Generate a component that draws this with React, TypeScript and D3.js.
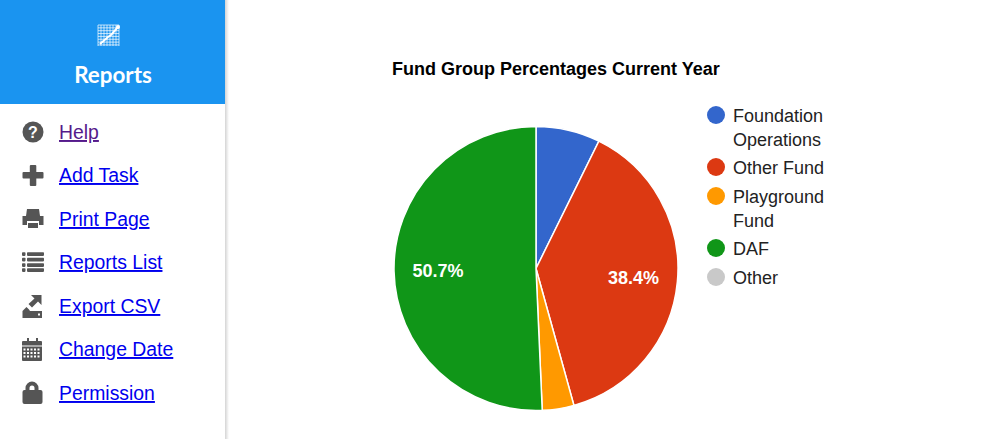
import React from "react";
import * as d3 from "d3";

const sliceNames = ["Foundation Operations", "Other Fund", "Playground Fund", "DAF", "Other"];
const sliceValues = [7.3, 38.4, 3.6, 50.7, 0.0];
const sliceColors = ["#3366cc", "#dc3912", "#ff9900", "#109618", "#c9c9c9"];
const legendLines = [["Foundation", "Operations"], ["Other Fund"], ["Playground", "Fund"], ["DAF"], ["Other"]];
const legendYs = [115, 167, 196, 248, 277];
const navLabels = ["Help", "Add Task", "Print Page", "Reports List", "Export CSV", "Change Date", "Permission"];
const navYs = [132, 175, 219, 262, 306, 349, 393];
const FONT = "'Liberation Sans', Arial, sans-serif";
const GREY = "#555555";

function Icon({ i, y }: { i: number; y: number }) {
  const t = `translate(33,${y})`;
  if (i === 0) return <g transform={t}>
    <circle r={10.5} fill={GREY} />
    <text y={5.5} textAnchor="middle" fontFamily={FONT} fontWeight="bold" fontSize={16} fill="#fff">?</text>
  </g>;
  if (i === 1) return <g transform={t} fill={GREY}>
    <rect x={-10.5} y={-3} width={21} height={6.5} rx={1} /><rect x={-3.2} y={-10} width={6.5} height={21} rx={1} />
  </g>;
  if (i === 2) return <g transform={t} fill={GREY}>
    <path d="M-6,-10 H6 L7,-3 H-7 Z" />
    <path d="M-10.5,-3 H10.5 V6 H6 V2 H-6 V6 H-10.5 Z" />
    <rect x={-5} y={4} width={10} height={5} />
  </g>;
  if (i === 3) return <g transform={t} fill={GREY}>
    {[-8, -2.5, 3, 8].map((d) => <g key={d}>
      <rect x={-11} y={d - 1.7} width={3.5} height={3.6} rx={0.8} />
      <rect x={-6} y={d - 1.7} width={17} height={3.6} rx={0.8} />
    </g>)}
  </g>;
  if (i === 4) return <g transform={t} fill={GREY}>
    <path d="M-2,-11 H8.5 V-1 L5,-4.5 L-1,1.5 L-4.5,-2 L1.5,-7.5 Z" />
    <path d="M-10.5,5 L-6.5,1 L-4,3.5 L-3,5 H9 V12 H-10.5 Z" />
    <rect x={5} y={7.5} width={2} height={2} fill="#fff" />
  </g>;
  if (i === 5) return <g transform={t}>
    <rect x={-11} y={-8} width={20} height={20} rx={1} fill={GREY} />
    <rect x={-6} y={-11} width={2} height={4} fill={GREY} /><rect x={3} y={-11} width={2} height={4} fill={GREY} />
    <path d="M-11,-3H9" stroke="#fff" strokeWidth={1} />
    {[-0.5, 3, 6.5].flatMap((yy) => [-9.5, -6, -2.5, 1, 4.5].map((xx) => (
      <rect key={`${xx}-${yy}`} x={xx} y={yy} width={2} height={2} fill="#fff" />
    )))}
  </g>;
  return <g transform={t} fill={GREY}>
    <path d="M-5.5,-2 V-5 A4.5,4.5 0 0 1 3.5,-5 V-2" fill="none" stroke={GREY} strokeWidth={4} />
    <rect x={-10.5} y={-3} width={20} height={14} rx={2} />
  </g>;
}

export default function App() {
  const pie = d3.pie<number>().sort(null)(sliceValues);
  const arc = d3.arc<d3.PieArcDatum<number>>().innerRadius(0).outerRadius(142);
  const labelArc = d3.arc<d3.PieArcDatum<number>>().innerRadius(98).outerRadius(98);
  const gridX = d3.range(0, 23, 3);
  return (
    <svg width={989} height={439} style={{ position: "fixed", left: 0, top: 0, display: "block", background: "#fff" }}>
      <defs>
        <linearGradient id="sh" x1="0" x2="1"><stop offset="0" stopColor="#d4d4d4" /><stop offset="1" stopColor="#ffffff" /></linearGradient>
      </defs>
      <rect x={225} y={0} width={4} height={439} fill="url(#sh)" />
      <rect x={0} y={0} width={225} height={104} fill="#1a94f0" />
      <g stroke="#fff" strokeWidth={0.7}>
        {gridX.map((d) => <line key={`v${d}`} x1={98 + d} x2={98 + d} y1={25} y2={46} />)}
        {gridX.map((d) => <line key={`h${d}`} x1={98} x2={119} y1={25 + d * 0.95} y2={25 + d * 0.95} />)}
      </g>
      <path d="M100,44 L108,37 L111,35 L118,27" stroke="#fff" strokeWidth={2} fill="none" />
      <circle cx={118} cy={27} r={2} fill="#fff" />
      <text x={113} y={83} textAnchor="middle" fill="#fff" fontFamily="Lato, sans-serif" fontWeight={700} fontSize={22.4}>Reports</text>

      {navLabels.map((l, i) => (
        <g key={l}>
          <Icon i={i} y={navYs[i]} />
          <text x={59} y={navYs[i] + 7} fontFamily={FONT} fontSize={19.4} fill={i === 0 ? "#551a8b" : "#0000ee"} textDecoration="underline">{l}</text>
        </g>
      ))}

      <text x={392} y={75} fontFamily={FONT} fontWeight="bold" fontSize={18} fill="#000">Fund Group Percentages Current Year</text>

      <g transform="translate(536,268.5)">
        {pie.map((p, i) => p.value > 0 && (
          <path key={sliceNames[i]} d={arc(p) as string} fill={sliceColors[i]} stroke="#fff" strokeWidth={1.5} />
        ))}
        {pie.map((p, i) => {
          if (p.value < 10) return null;
          const [x, y] = labelArc.centroid(p);
          return <text key={sliceNames[i]} x={x} y={y + 6} textAnchor="middle" fontFamily={FONT} fontWeight="bold" fontSize={18} fill="#fff">{p.value.toFixed(1)}%</text>;
        })}
      </g>

      {sliceNames.map((n, i) => (
        <g key={n}>
          <circle cx={716} cy={legendYs[i]} r={9} fill={sliceColors[i]} />
          {legendLines[i].map((t, j) => (
            <text key={t} x={733} y={legendYs[i] + 6.5 + j * 24.5} fontFamily={FONT} fontSize={18} fill="#222222">{t}</text>
          ))}
        </g>
      ))}
    </svg>
  );
}
